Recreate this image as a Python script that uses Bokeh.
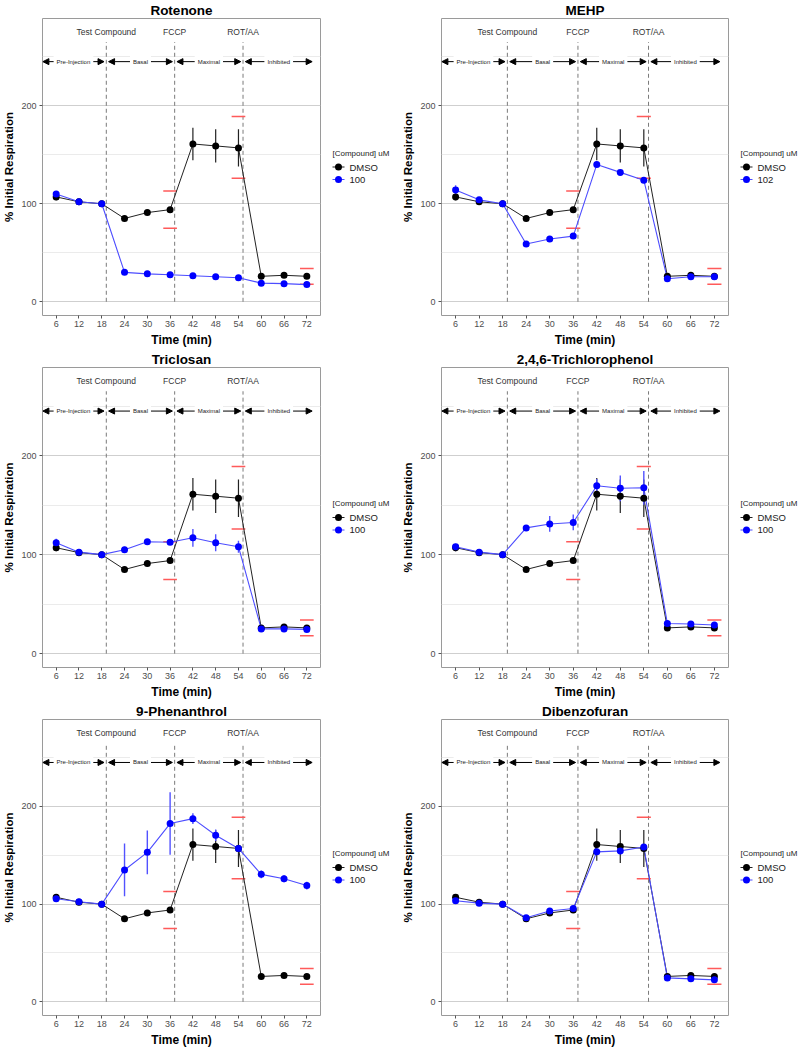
from bokeh.plotting import figure
from bokeh.layouts import column, row
from bokeh.models import (ColumnDataSource, FixedTicker, Arrow, NormalHead,
                          Label, Range1d)
from bokeh.embed import file_html
from bokeh.resources import INLINE
from bokeh.core.properties import value

# ---------------- data ----------------
time_min = [6, 12, 18, 24, 30, 36, 42, 48, 54, 60, 66, 72]
x_ticks = [6, 12, 18, 24, 30, 36, 42, 48, 54, 60, 66, 72]
y_ticks = [0, 100, 200]
y_minor = [50, 150, 250]

dmso_mean = [107, 102, 100, 85, 91, 94, 161, 159, 157, 26, 27, 26]
dmso_err = [3.5, 1, 0.5, 1.5, 1.5, 1.5, 16.5, 17, 19, 1.5, 1.5, 1.5]

titles = ["Rotenone", "MEHP", "Triclosan", "2,4,6-Trichlorophenol",
          "9-Phenanthrol", "Dibenzofuran"]
doses = ["100", "102", "100", "100", "100", "100"]
legend_title = "[Compound] uM"

rotenone_mean = [110, 102, 100, 30, 28.5, 27.5, 26.5, 25.5, 24.5, 19, 18.5, 17.5]
rotenone_err = [2, 1, 0.5, 2.5, 2.5, 2, 1, 1, 1, 1, 1, 1]
mehp_mean = [114, 104, 100, 59, 64, 67, 140, 132, 124, 23.5, 25.5, 25.5]
mehp_err = [5, 1.5, 0.5, 1.5, 1.5, 1.5, 1.5, 1.5, 1.5, 1.5, 1, 1]
triclosan_mean = [112, 102.5, 100, 105, 113, 112.5, 117, 112, 108, 25, 25, 24.5]
triclosan_err = [4, 1, 0.5, 3, 1.5, 1.5, 9, 8.5, 6, 1, 1, 1.5]
tcp_mean = [108, 102.5, 100, 127, 131, 132.5, 169.5, 167, 167.5, 30.5, 30, 29]
tcp_err = [3, 1, 0.5, 2, 8, 8, 7, 13, 17, 2, 2.5, 2]
phen_mean = [105.5, 102.5, 100, 135, 153, 182.5, 187.5, 170.5, 157, 130.5, 126, 119]
phen_err = [2, 1.5, 0.5, 27, 22.5, 32, 5.5, 6, 3, 4, 3.5, 4]
dbf_mean = [103.5, 101, 100, 86, 93, 95.5, 153.5, 154.5, 158.5, 24.5, 23.5, 22.5]
dbf_err = [1.5, 1, 0.5, 1.5, 1.5, 1.5, 3, 3, 3, 1, 1, 1]

compound_means = [rotenone_mean, mehp_mean, triclosan_mean, tcp_mean, phen_mean, dbf_mean]
compound_errs = [rotenone_err, mehp_err, triclosan_err, tcp_err, phen_err, dbf_err]

# injections and phases
inj_x = [19.2, 37.2, 55.2]
inj_labels = ["Test Compound", "FCCP", "ROT/AA"]
phase_start = [2.5, 19.8, 37.8, 55.8]
phase_end = [18.6, 36.6, 54.6, 73.4]
phase_labels = ["Pre-Injection", "Basal", "Maximal", "Inhibited"]

# reference thresholds (red marks)
thr_x = [36, 54, 72]
thr_hi = [113, 189, 34]
thr_lo = [75, 126, 18]

FONT = "Liberation Sans"
DMSO_COLOR = "#222222"
CMP_POINT = "#0000ff"
CMP_LINE = "#4d4dff"
TOP_AREA = 18
BOTTOM_AREA = 34


def make_panel(title, mean, err, w, h):
    p = figure(width=w, height=h, x_range=Range1d(2.4, 75.6),
               y_range=Range1d(-14, 289), output_backend="svg",
               toolbar_location=None, title=title,
               min_border_left=4, min_border_right=4,
               min_border_top=0, min_border_bottom=2)
    p.title.align = "center"
    p.title.text_font = FONT
    p.title.text_font_size = "13.5px"
    p.title.text_font_style = "bold"
    p.title.text_color = "black"
    p.title.standoff = 1

    p.xaxis.ticker = FixedTicker(ticks=x_ticks)
    p.yaxis.ticker = FixedTicker(ticks=y_ticks, minor_ticks=y_minor)
    p.xgrid.visible = False
    p.ygrid.grid_line_color = "#cfcfcf"
    p.ygrid.minor_grid_line_color = "#ebebeb"
    p.xaxis.axis_label = "Time (min)"
    p.yaxis.axis_label = "% Initial Respiration"
    p.axis.axis_label_text_font = FONT
    p.axis.axis_label_text_font_style = "bold"
    p.axis.axis_label_text_color = "black"
    p.xaxis.axis_label_text_font_size = "12px"
    p.yaxis.axis_label_text_font_size = "11.5px"
    p.axis.axis_label_standoff = 3
    p.axis.axis_line_color = None
    p.axis.major_tick_in = 0
    p.axis.major_tick_out = 3
    p.axis.major_tick_line_color = "#555555"
    p.axis.minor_tick_line_color = None
    p.axis.major_label_text_font = FONT
    p.axis.major_label_text_font_size = "9px"
    p.axis.major_label_text_color = "#4d4d4d"
    p.axis.major_label_standoff = 2
    p.outline_line_color = "#9a9a9a"
    p.outline_line_width = 1

    # injection lines and labels
    p.segment(x0=inj_x, y0=0, x1=inj_x, y1=265, line_dash="4 3",
              line_color="#7a7a7a", line_width=1)
    p.text(x=inj_x, y=275, text=inj_labels, text_align="center",
           text_baseline="middle", text_font=value(FONT),
           text_font_size="8.5px", text_color="#333333")

    # phase arrows with labels
    asrc = ColumnDataSource(dict(x0=phase_start, x1=phase_end,
                                 y=[245] * len(phase_start)))
    p.add_layout(Arrow(source=asrc, x_start="x0", y_start="y", x_end="x1", y_end="y",
                       line_width=1, line_color="black",
                       start=NormalHead(size=6, fill_color="black", line_color="black"),
                       end=NormalHead(size=6, fill_color="black", line_color="black")))
    for s, e, lab in zip(phase_start, phase_end, phase_labels):
        p.add_layout(Label(x=(s + e) / 2, y=245, text=lab, text_align="center",
                           text_baseline="middle", text_font=FONT,
                           text_font_size="6px", text_color="#222222",
                           background_fill_color="white", padding=3))

    # red threshold marks
    p.segment(x0=[x - 1.8 for x in thr_x], y0=thr_hi, x1=[x + 1.8 for x in thr_x],
              y1=thr_hi, line_color="#ff5a5a", line_width=1.5)
    p.segment(x0=[x - 1.8 for x in thr_x], y0=thr_lo, x1=[x + 1.8 for x in thr_x],
              y1=thr_lo, line_color="#ff5a5a", line_width=1.5)

    src_d = ColumnDataSource(dict(t=time_min, m=dmso_mean,
                                  lo=[m - e for m, e in zip(dmso_mean, dmso_err)],
                                  hi=[m + e for m, e in zip(dmso_mean, dmso_err)]))
    src_c = ColumnDataSource(dict(t=time_min, m=mean,
                                  lo=[m - e for m, e in zip(mean, err)],
                                  hi=[m + e for m, e in zip(mean, err)]))

    p.line("t", "m", source=src_d, line_color=DMSO_COLOR, line_width=1)
    p.line("t", "m", source=src_c, line_color=CMP_LINE, line_width=1.1)
    p.segment(x0="t", y0="lo", x1="t", y1="hi", source=src_d,
              line_color=DMSO_COLOR, line_width=1.2)
    p.segment(x0="t", y0="lo", x1="t", y1="hi", source=src_c,
              line_color="#5252ff", line_width=1.4)
    p.scatter("t", "m", source=src_d, size=7, fill_color="black", line_color=None)
    p.scatter("t", "m", source=src_c, size=7, fill_color=CMP_POINT, line_color=None)
    return p


def make_legend(dose, w, h):
    fh = h - TOP_AREA - BOTTOM_AREA  # frame height shared with the panel in the row
    lf = figure(width=w, height=h, x_range=Range1d(0, w), y_range=Range1d(0, fh),
                output_backend="svg", toolbar_location=None,
                x_axis_location=None, y_axis_location=None, min_border=0)
    lf.grid.visible = False
    lf.outline_line_color = None
    cy = fh / 2
    lf.text(x=[8], y=[cy + 14], text=[legend_title], text_align="left",
            text_baseline="middle", text_font=value(FONT),
            text_font_size="8px", text_color="#222222")
    names = ["DMSO", dose]
    lcols = [DMSO_COLOR, CMP_LINE]
    pcols = ["black", CMP_POINT]
    for k in range(2):
        yy = cy - 12.5 * k
        lf.segment(x0=8, y0=yy, x1=20, y1=yy, line_color=lcols[k], line_width=1.2)
        lf.scatter(x=[14], y=[yy], size=7, fill_color=pcols[k], line_color=None)
        lf.text(x=[25], y=[yy], text=[names[k]], text_align="left",
                text_baseline="middle", text_font=value(FONT),
                text_font_size="9.5px", text_color="#222222")
    return lf


row_heights = [349, 352, 348]
rows = []
for r in range(3):
    h = row_heights[r]
    i, j = 2 * r, 2 * r + 1
    left = make_panel(titles[i], compound_means[i], compound_errs[i], 324, h)
    left_leg = make_legend(doses[i], 75, h)
    right = make_panel(titles[j], compound_means[j], compound_errs[j], 333, h)
    right_leg = make_legend(doses[j], 67, h)
    rows.append(row(left, left_leg, right, right_leg))

layout = column(*rows)

open("out.html", "w").write(file_html(layout, INLINE))
